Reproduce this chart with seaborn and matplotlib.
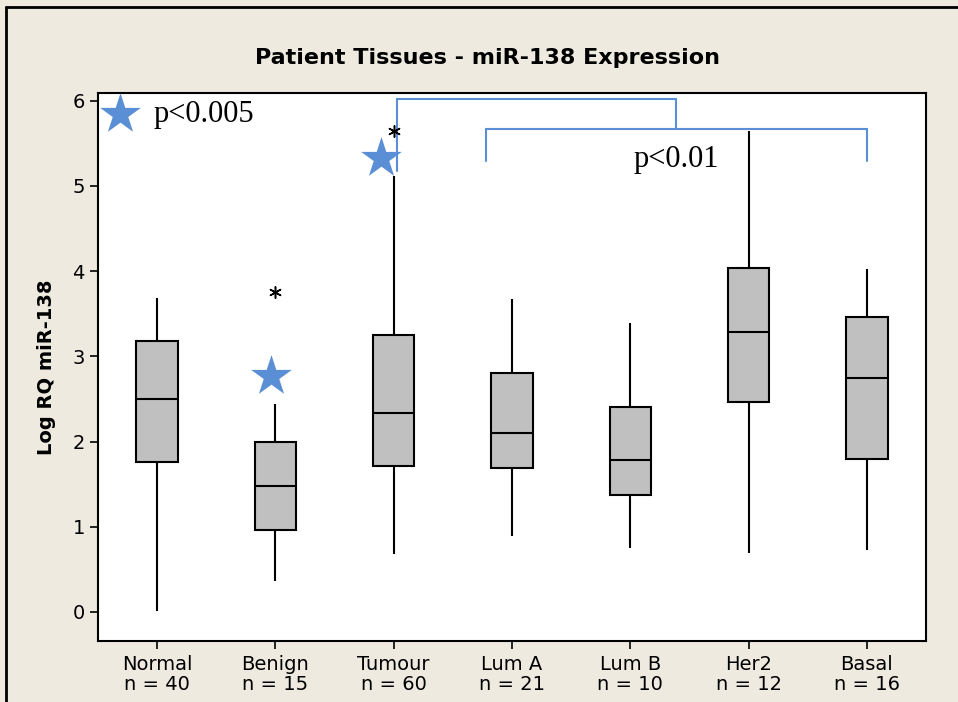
import numpy as np
import pandas as pd
import seaborn as sns
import matplotlib.pyplot as plt
from matplotlib.lines import Line2D

groups = ["Normal", "Benign", "Tumour", "Lum A", "Lum B", "Her2", "Basal"]
counts = [40, 15, 60, 21, 10, 12, 16]
# five number summaries: whisker low, Q1, median, Q3, whisker high
low = [0.01, 0.36, 0.68, 0.89, 0.75, 0.69, 0.73]
q1 = [1.76, 0.96, 1.71, 1.69, 1.37, 2.46, 1.79]
med = [2.50, 1.48, 2.33, 2.10, 1.78, 3.29, 2.74]
q3 = [3.18, 1.99, 3.25, 2.80, 2.41, 4.04, 3.46]
high = [3.69, 2.44, 5.12, 3.67, 3.39, 5.65, 4.02]
outlier_group = ["Benign", "Tumour"]
outlier_val = [3.75, 5.65]
star_group = ["Benign", "Tumour"]
star_val = [2.77, 5.33]

rows = []
for i, g in enumerate(groups):
    for v in [low[i], q1[i], med[i], q3[i], high[i]]:
        rows.append({"group": g, "value": v})
df = pd.DataFrame(rows)

sns.set_style("white")
plt.rcParams['font.family'] = ['DejaVu Sans']
plt.rcParams['text.color'] = 'black'
plt.rcParams['axes.labelcolor'] = 'black'
plt.rcParams['xtick.color'] = 'black'
plt.rcParams['ytick.color'] = 'black'
bg = "#EEEAE0"
blue = "#5A8FD6"

fig = plt.figure(figsize=(9.58, 7.02), dpi=100, facecolor=bg)
ax = fig.add_axes([0.1023, 0.087, 0.8643, 0.7805])

sns.boxplot(data=df, x="group", y="value", order=groups, whis=np.inf,
            width=0.35, color="#C0C0C0", linecolor="black", linewidth=1.5,
            saturation=1, showcaps=False, ax=ax)

pos = {g: i for i, g in enumerate(groups)}
ax.scatter([pos[g] for g in outlier_group], outlier_val, marker=(6, 2, 0),
           s=70, color="black", linewidths=1.1, zorder=5)
ax.scatter([pos[g] + d for g, d in zip(star_group, [-0.04, -0.11])], star_val,
           marker="*", s=950, color=blue, linewidths=0, zorder=5)

# legend star
ax.scatter([-0.31], [5.84], marker="*", s=950, color=blue, linewidths=0, zorder=5)
ax.text(-0.03, 5.84, "p<0.005", fontsize=22, family="Liberation Serif",
        va="center", ha="left")

# significance brackets
ax.plot([2.03, 2.03, 4.39, 4.39], [5.17, 6.02, 6.02, 5.67], color=blue, lw=1.5,
        solid_joinstyle="miter", zorder=4)
ax.plot([2.78, 2.78, 6.0, 6.0], [5.29, 5.67, 5.67, 5.29], color=blue, lw=1.5,
        solid_joinstyle="miter", zorder=4)
ax.text(4.03, 5.31, "p<0.01", fontsize=22, family="Liberation Serif",
        va="center", ha="left")

ax.set_xlim(-0.5, 6.5)
ax.set_ylim(-0.34, 6.09)
ax.set_yticks(range(0, 7))
ax.set_xticks(range(len(groups)))
ax.set_xticklabels([f"{g}\nn = {n}" for g, n in zip(groups, counts)],
                   fontsize=14, linespacing=1.1)
ax.tick_params(axis="y", labelsize=14, length=6, width=1.2, direction="out", left=True)
ax.tick_params(axis="x", length=6, width=1.2, direction="out", bottom=True, pad=4)
for s in ax.spines.values():
    s.set_color("black")
    s.set_linewidth(1.5)
ax.set_xlabel("")
ax.set_ylabel("Log RQ miR-138", fontsize=14, fontweight="bold", labelpad=12)

fig.text(0.509, 0.917, "Patient Tissues - miR-138 Expression", fontsize=16,
         fontweight="bold", ha="center", va="center")

# outer frame
fig.add_artist(Line2D([0.006, 0.006], [0.0, 0.99], color="black", lw=2))
fig.add_artist(Line2D([0.006, 1.0], [0.99, 0.99], color="black", lw=2))

fig.savefig("out.png", dpi=100, facecolor=bg)
